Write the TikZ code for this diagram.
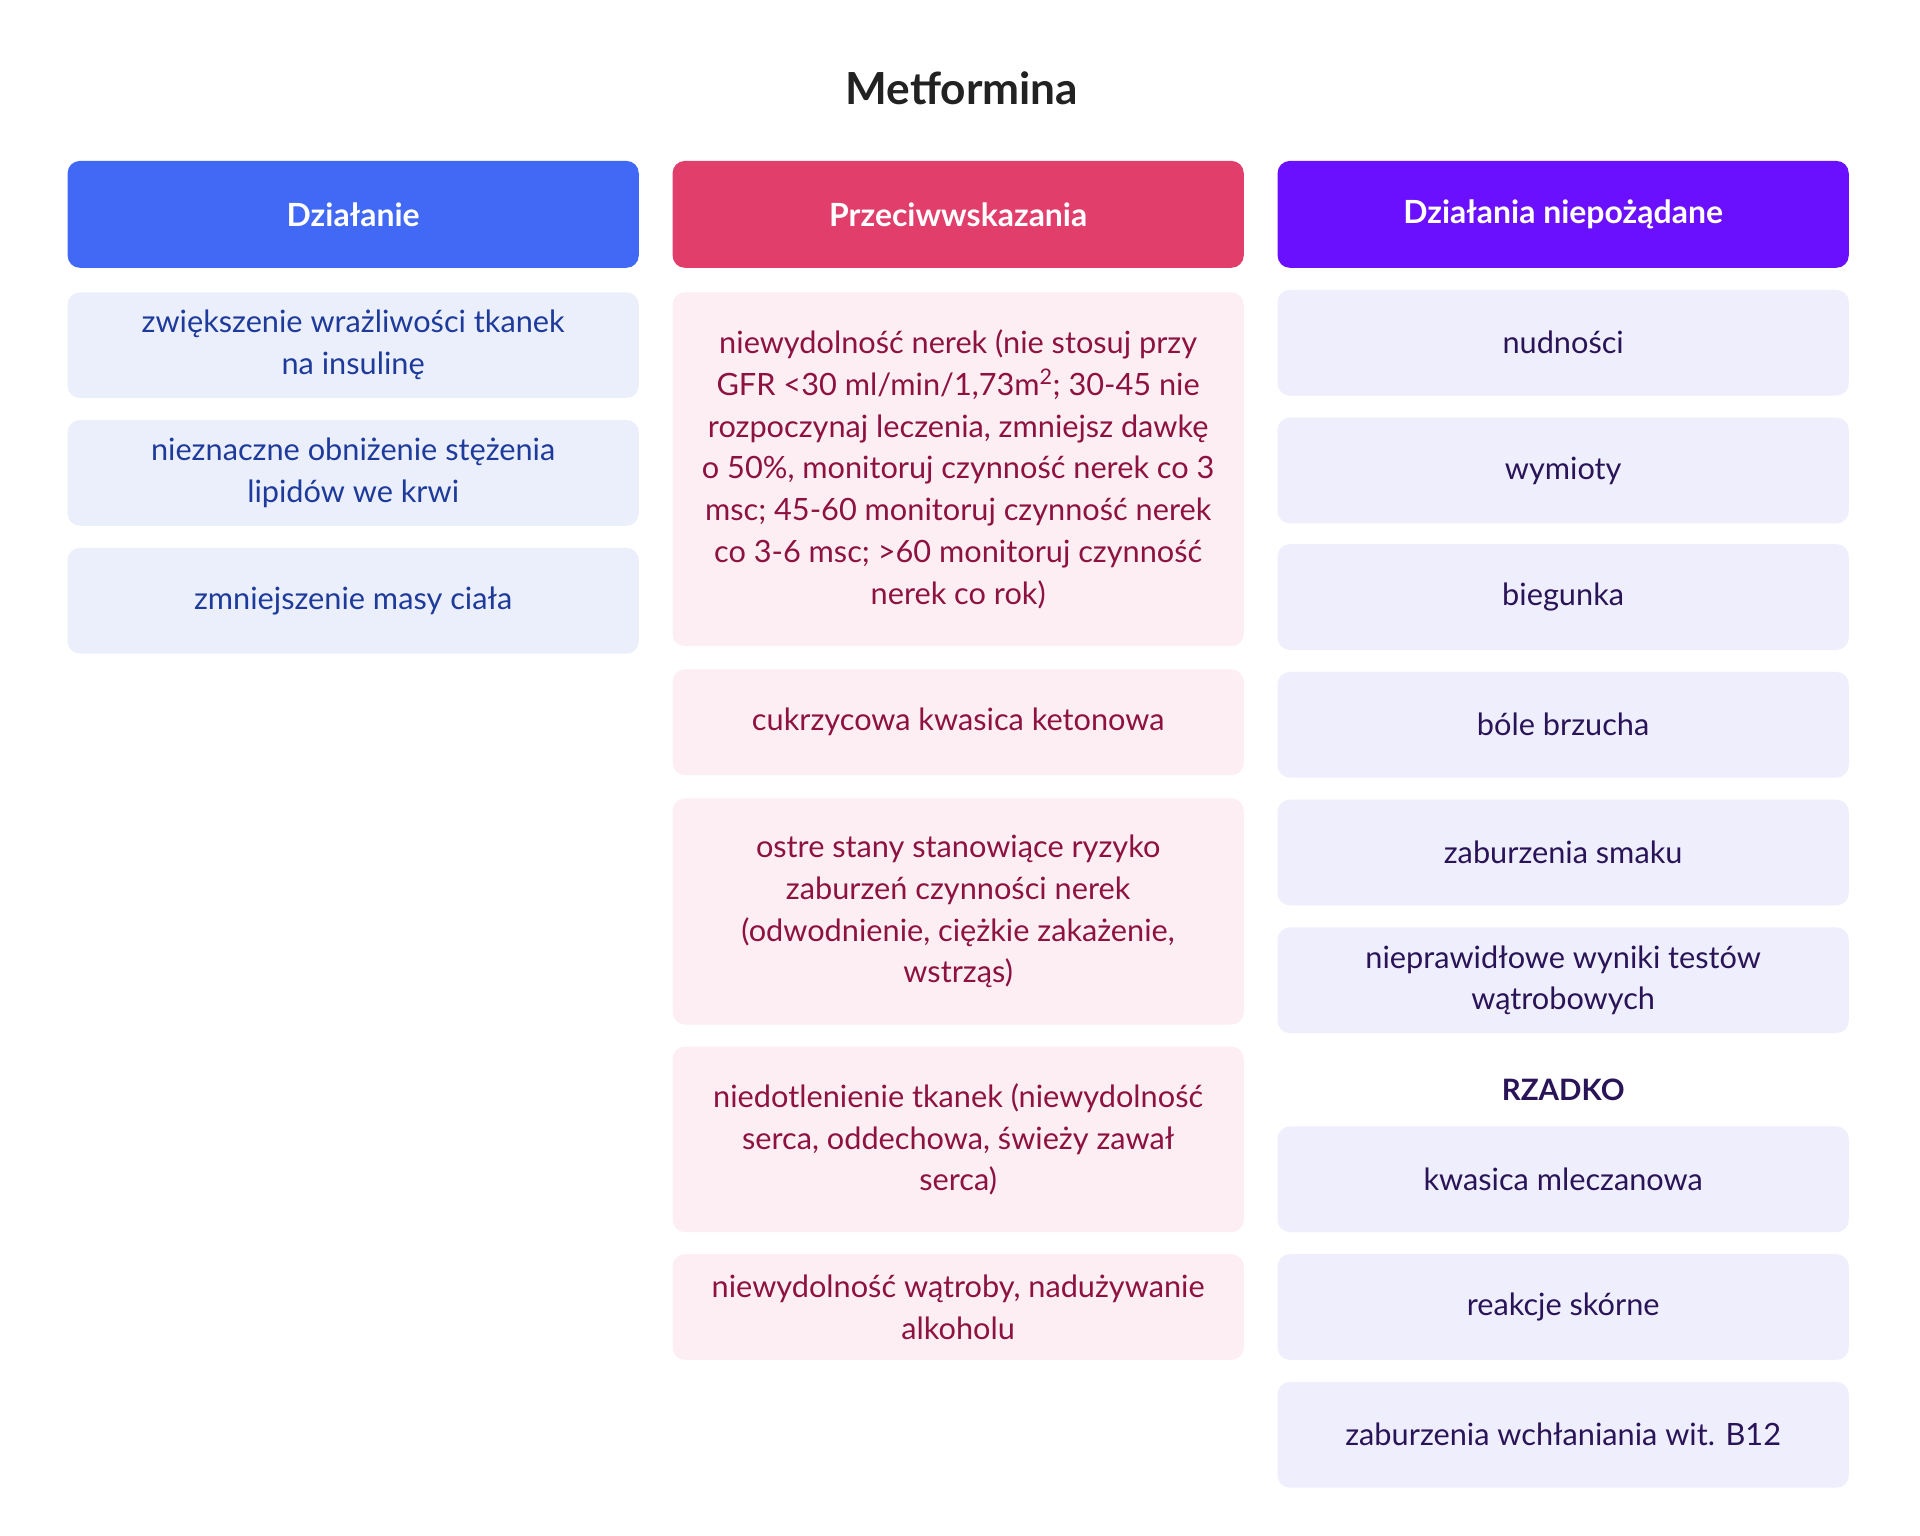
\documentclass[tikz,border=0pt]{standalone}
\usepackage{fontspec}
\setmainfont{Lato}
\definecolor{hA}{HTML}{4169F5}\definecolor{hB}{HTML}{E23E6B}\definecolor{hC}{HTML}{6B10FF}
\definecolor{fA}{HTML}{EBEFFC}\definecolor{fB}{HTML}{FDEEF3}\definecolor{fC}{HTML}{EFEEFC}
\definecolor{tA}{HTML}{1E3A9A}\definecolor{tB}{HTML}{8E1240}\definecolor{tC}{HTML}{2A1458}
\begin{document}
\begin{tikzpicture}[x=1pt,y=-1pt,
  hdr/.style={rounded corners=10pt,minimum width=465pt,text=white,font=\fontsize{26}{32}\selectfont\bfseries,align=center,inner sep=0},
  itm/.style={rounded corners=10pt,minimum width=465pt,font=\fontsize{25}{34}\selectfont,align=center,inner sep=0}]
\fill[white] (0,0) rectangle (1563,1250);
\node[font=\fontsize{36}{40}\selectfont\bfseries,text={rgb,255:red,34;green,34;blue,34}] (title) at (783,72) {Metformina};
\def\bx#1#2#3#4#5#6{\node[#1,minimum height=#4pt-#3pt] (#2) at (#5,{(#3+#4)/2}) {#6};}
% headers
\bx{hdr,fill=hA}{ha}{131}{218}{287.5}{Działanie}
\bx{hdr,fill=hB}{hb}{131}{218}{780}{Przeciwwskazania}
\bx{hdr,fill=hC}{hc}{131}{218}{1272.5}{Działania niepożądane}
% col 1
\bx{itm,fill=fA,text=tA}{a1}{238}{324}{287.5}{zwiększenie wrażliwości tkanek\\na insulinę}
\bx{itm,fill=fA,text=tA}{a2}{342}{428}{287.5}{nieznaczne obniżenie stężenia\\lipidów we krwi}
\bx{itm,fill=fA,text=tA}{a3}{446}{532}{287.5}{zmniejszenie masy ciała}
% col 2
\bx{itm,fill=fB,text=tB}{b1}{238}{526}{780}{niewydolność nerek (nie stosuj przy\\GFR <30 ml/min/1,73m\textsuperscript{2}; 30-45 nie\\rozpoczynaj leczenia, zmniejsz dawkę\\o 50\%, monitoruj czynność nerek co 3\\msc; 45-60 monitoruj czynność nerek\\co 3-6 msc; >60 monitoruj czynność\\nerek co rok)}
\bx{itm,fill=fB,text=tB}{b2}{545}{631}{780}{cukrzycowa kwasica ketonowa}
\bx{itm,fill=fB,text=tB}{b3}{650}{834}{780}{ostre stany stanowiące ryzyko\\zaburzeń czynności nerek\\(odwodnienie, ciężkie zakażenie,\\wstrząs)}
\bx{itm,fill=fB,text=tB}{b4}{852}{1003}{780}{niedotlenienie tkanek (niewydolność\\serca, oddechowa, świeży zawał\\serca)}
\bx{itm,fill=fB,text=tB}{b5}{1021}{1107}{780}{niewydolność wątroby, nadużywanie\\alkoholu}
% col 3
\bx{itm,fill=fC,text=tC}{c1}{236}{322}{1272.5}{nudności}
\bx{itm,fill=fC,text=tC}{c2}{340}{426}{1272.5}{wymioty}
\bx{itm,fill=fC,text=tC}{c3}{443}{529}{1272.5}{biegunka}
\bx{itm,fill=fC,text=tC}{c4}{547}{633}{1272.5}{bóle brzucha}
\bx{itm,fill=fC,text=tC}{c5}{651}{737}{1272.5}{zaburzenia smaku}
\bx{itm,fill=fC,text=tC}{c6}{755}{841}{1272.5}{nieprawidłowe wyniki testów\\wątrobowych}
\node[font=\fontsize{24}{30}\selectfont\bfseries,text=tC] (rz) at (1272.5,887) {RZADKO};
\bx{itm,fill=fC,text=tC}{c7}{917}{1003}{1272.5}{kwasica mleczanowa}
\bx{itm,fill=fC,text=tC}{c8}{1021}{1107}{1272.5}{reakcje skórne}
\bx{itm,fill=fC,text=tC}{c9}{1125}{1211}{1272.5}{zaburzenia wchłaniania wit. B12}
\end{tikzpicture}
\end{document}
